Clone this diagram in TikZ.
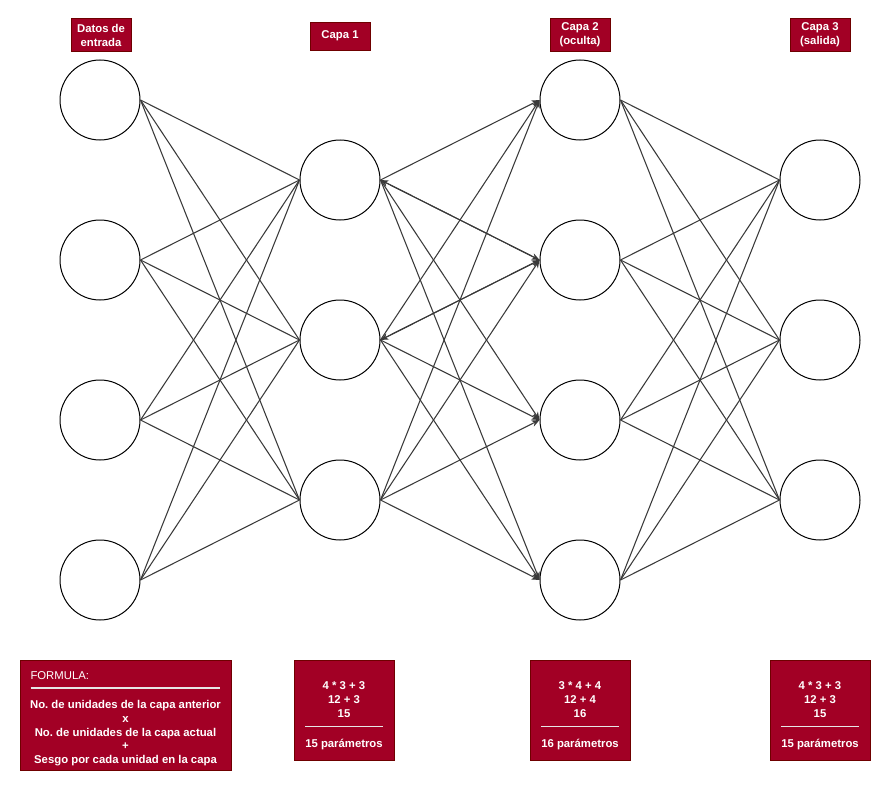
\documentclass[tikz,border=0pt]{standalone}
\usepackage{fontspec}
\setmainfont{Liberation Sans}
\usetikzlibrary{arrows.meta}

\definecolor{crimson}{HTML}{A20025}
\definecolor{crimsonline}{HTML}{6F0000}
\definecolor{wire}{HTML}{3A3A3A}
\definecolor{sepline}{HTML}{E6E6E6}

\begin{document}
\begin{tikzpicture}[
    x=0.75pt, y=-0.75pt,
    neuron/.style={
        circle,
        draw=black,
        line width=0.75pt,
        fill=white,
        minimum size=60pt,
        inner sep=0pt
    },
    title/.style={
        rectangle,
        draw=crimsonline,
        fill=crimson,
        text=white,
        align=center,
        inner sep=1pt,
        minimum width=45pt,
        font=\fontsize{8.5}{10.5}\selectfont\bfseries
    },
    calc/.style={
        rectangle,
        draw=crimsonline,
        fill=crimson,
        text=white,
        align=center,
        minimum width=75pt,
        minimum height=75pt,
        font=\fontsize{8.5}{10.5}\selectfont\bfseries
    },
    wire/.style={
        draw=wire,
        line width=0.8pt
    },
    tip/.style={
        -{Stealth[length=6pt,width=5pt]}
    }
]

\useasboundingbox (0,0) rectangle (892,792);

% Input layer
\node[neuron] (in1) at (100,100) {};
\node[neuron] (in2) at (100,260) {};
\node[neuron] (in3) at (100,420) {};
\node[neuron] (in4) at (100,580) {};

% Layer 1
\node[neuron] (h1) at (340,180) {};
\node[neuron] (h2) at (340,340) {};
\node[neuron] (h3) at (340,500) {};

% Layer 2 (hidden)
\node[neuron] (k1) at (580,100) {};
\node[neuron] (k2) at (580,260) {};
\node[neuron] (k3) at (580,420) {};
\node[neuron] (k4) at (580,580) {};

% Layer 3 (output)
\node[neuron] (out1) at (820,180) {};
\node[neuron] (out2) at (820,340) {};
\node[neuron] (out3) at (820,500) {};

% Titles
\node[title, minimum height=25pt] (t-in) at (101,35) {Datos de\\entrada};
\node[title, minimum height=21pt] (t-h) at (340,36) {Capa 1};
\node[title, minimum height=25pt] (t-k) at (580,35) {Capa 2\\(oculta)};
\node[title, minimum height=25pt] (t-out) at (820,35) {Capa 3\\(salida)};

% Connections
\foreach \i in {1,...,4}
    \foreach \j in {1,2,3}
        \draw[wire] (in\i.east) -- (h\j.west);

\foreach \i in {1,2,3}
    \foreach \j in {1,...,4}
        \draw[wire, tip] (h\i.east) -- (k\j.west);

\draw[wire, tip] (k2.west) -- (h1.east);
\draw[wire, tip] (k2.west) -- (h2.east);

\foreach \i in {1,...,4}
    \foreach \j in {1,2,3}
        \draw[wire] (k\i.east) -- (out\j.west);

% Parameter boxes
\node[rectangle, draw=crimsonline, fill=crimson, text=white, align=center,
      minimum width=158pt, minimum height=82.5pt, inner sep=0pt,
      font=\fontsize{8.5}{10.2}\selectfont] (formula) at (125.5,715) {%
    \rule{0pt}{11pt}\makebox[142.5pt][l]{FORMULA:}\\[-3pt]
    {\color{sepline}\rule{142.5pt}{1pt}}\\[5pt]
    \bfseries No.\ de unidades de la capa anterior\\
    \bfseries x\\
    \bfseries No.\ de unidades de la capa actual\\
    \bfseries +\\
    \bfseries Sesgo por cada unidad en la capa};

\node[calc] (p1) at (344,710) {\rule{0pt}{14pt}4 * 3 + 3\\12 + 3\\15\\[-3pt]{\color{sepline}\rule{58pt}{1pt}}\\[4.5pt]15 parámetros};
\node[calc] (p2) at (580,710) {\rule{0pt}{14pt}3 * 4 + 4\\12 + 4\\16\\[-3pt]{\color{sepline}\rule{58pt}{1pt}}\\[4.5pt]16 parámetros};
\node[calc] (p3) at (820,710) {\rule{0pt}{14pt}4 * 3 + 3\\12 + 3\\15\\[-3pt]{\color{sepline}\rule{58pt}{1pt}}\\[4.5pt]15 parámetros};

\end{tikzpicture}
\end{document}
